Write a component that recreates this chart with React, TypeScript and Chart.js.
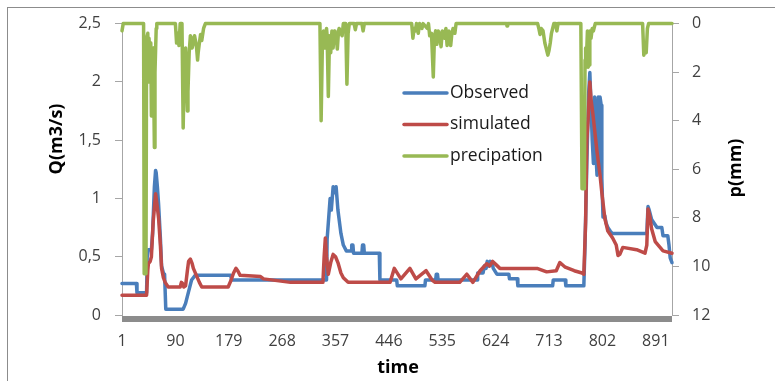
import { useEffect, useRef } from 'react';
import { Chart, registerables } from 'chart.js';
Chart.register(...registerables);

const xTickValues = [1, 90, 179, 268, 357, 446, 535, 624, 713, 802, 891];
const seriesNames = ['Observed', 'simulated', 'precipation'];

const obsT = [1, 25, 26, 42, 43, 45, 50, 52, 55, 57, 58, 60, 62, 65, 67, 70, 72, 74, 103, 107, 112, 117, 123, 182, 184, 342, 343, 348, 350, 353, 356, 358, 361, 366, 370, 375, 383, 384, 386, 387, 401, 402, 404, 405, 430, 431, 459, 460, 506, 507, 524, 525, 527, 528, 593, 594, 603, 605, 608, 610, 613, 615, 618, 620, 626, 646, 647, 660, 661, 719, 720, 740, 741, 771, 773, 776, 779, 781, 783, 785, 787, 789, 791, 793, 795, 797, 798, 800, 801, 803, 806, 808, 811, 815, 818, 876, 878, 880, 884, 893, 901, 903, 911, 913, 915, 918];
const obsQ = [0.27, 0.27, 0.19, 0.19, 0.5, 0.56, 0.56, 0.7, 1.1, 1.24, 1.22, 1.1, 0.95, 0.66, 0.42, 0.36, 0.35, 0.05, 0.05, 0.1, 0.2, 0.3, 0.34, 0.34, 0.3, 0.3, 0.65, 1.0, 0.9, 1.1, 1.05, 1.1, 0.9, 0.7, 0.6, 0.55, 0.55, 0.6, 0.6, 0.53, 0.53, 0.6, 0.6, 0.53, 0.53, 0.3, 0.3, 0.25, 0.25, 0.3, 0.3, 0.35, 0.35, 0.3, 0.3, 0.36, 0.36, 0.42, 0.4, 0.46, 0.42, 0.46, 0.45, 0.4, 0.35, 0.35, 0.31, 0.31, 0.25, 0.25, 0.3, 0.3, 0.25, 0.25, 0.6, 1.3, 1.9, 2.08, 1.8, 1.5, 1.3, 1.87, 1.4, 1.2, 1.87, 1.3, 1.87, 1.8, 1.17, 0.84, 0.85, 0.79, 0.75, 0.72, 0.7, 0.7, 0.93, 0.9, 0.82, 0.75, 0.75, 0.68, 0.68, 0.6, 0.49, 0.45];

const simT = [1, 42, 44, 45, 48, 50, 53, 57, 60, 62, 65, 67, 70, 73, 78, 98, 100, 102, 104, 107, 110, 112, 115, 118, 120, 125, 130, 134, 178, 183, 187, 191, 194, 198, 232, 237, 282, 336, 338, 340, 342, 345, 349, 353, 357, 361, 366, 370, 378, 448, 455, 466, 481, 491, 508, 518, 523, 564, 576, 586, 598, 609, 614, 619, 625, 631, 693, 709, 725, 731, 740, 755, 768, 771, 774, 776, 778, 781, 783, 786, 793, 798, 801, 806, 811, 819, 825, 828, 831, 836, 859, 873, 876, 878, 881, 884, 890, 903, 918];
const simQ = [0.17, 0.17, 0.38, 0.44, 0.46, 0.5, 0.8, 1.04, 0.92, 0.83, 0.6, 0.4, 0.32, 0.28, 0.24, 0.24, 0.28, 0.27, 0.24, 0.25, 0.38, 0.46, 0.48, 0.44, 0.4, 0.34, 0.28, 0.24, 0.24, 0.3, 0.36, 0.4, 0.38, 0.34, 0.33, 0.31, 0.28, 0.28, 0.5, 0.66, 0.5, 0.35, 0.45, 0.52, 0.5, 0.45, 0.36, 0.32, 0.28, 0.28, 0.4, 0.31, 0.4, 0.31, 0.38, 0.3, 0.28, 0.28, 0.35, 0.28, 0.38, 0.44, 0.42, 0.46, 0.43, 0.4, 0.4, 0.37, 0.38, 0.45, 0.41, 0.38, 0.36, 0.35, 0.8, 1.5, 1.67, 2.0, 1.85, 1.73, 1.4, 1.2, 1.05, 0.83, 0.72, 0.66, 0.6, 0.51, 0.52, 0.58, 0.56, 0.53, 0.6, 0.91, 0.85, 0.74, 0.63, 0.55, 0.53];

const precT = [1, 3, 37, 38, 41, 42, 44, 45, 46, 47, 49, 50, 51, 53, 54, 55, 56, 58, 59, 90, 92, 94, 96, 98, 101, 103, 105, 107, 110, 111, 113, 115, 117, 118, 120, 122, 125, 127, 128, 130, 132, 134, 137, 140, 331, 333, 335, 337, 339, 340, 342, 343, 345, 347, 349, 351, 353, 355, 356, 358, 360, 362, 363, 366, 368, 370, 374, 376, 378, 380, 388, 390, 392, 401, 403, 405, 484, 486, 488, 490, 492, 495, 497, 501, 503, 510, 512, 514, 517, 520, 522, 524, 526, 528, 530, 533, 535, 536, 539, 541, 543, 545, 546, 549, 551, 553, 556, 558, 642, 643, 644, 694, 696, 698, 700, 703, 706, 708, 711, 713, 715, 717, 719, 721, 724, 726, 728, 766, 768, 772, 773, 774, 776, 777, 778, 780, 781, 783, 785, 787, 790, 869, 871, 873, 875, 877, 879, 918];
const precP = [0.3, 0, 0, 10.3, 10.3, 0.6, 0.4, 2.4, 0.6, 1.0, 0.8, 3.8, 1.5, 1.0, 3.0, 5.1, 2.0, 0.2, 0, 0, 0.8, 0.4, 0.9, 0, 0, 4.3, 1.5, 1.0, 3.6, 2.8, 1.2, 0.5, 0.6, 1.0, 0.8, 0.5, 0.9, 1.5, 1.2, 0.8, 0.45, 0.7, 0.2, 0, 0, 4.0, 1.0, 0.3, 0.4, 1.0, 0.2, 0.5, 3.0, 0.5, 1.2, 0.3, 1.0, 0.3, 0.7, 0.5, 1.05, 0.3, 0.2, 0.4, 0.5, 0, 0, 2.5, 0.4, 0, 0, 0.25, 0, 0, 0.3, 0, 0, 0.6, 0.2, 0.3, 0, 0.4, 0, 0.2, 0, 0.2, 0, 0.5, 0.4, 2.2, 0.5, 0.3, 0.85, 0.3, 0.4, 0.95, 0.3, 0.3, 0.6, 0.2, 0.9, 0.5, 0.3, 0.9, 0.4, 0.2, 0.4, 0, 0, 0.1, 0, 0, 0.2, 0.45, 0.2, 0.3, 0.8, 1.0, 1.3, 1.1, 0.8, 0.4, 0.2, 0, 0, 0.3, 0, 0, 6.8, 6.8, 1.5, 1.0, 1.0, 0.3, 1.8, 1.7, 0.3, 0.6, 0.2, 0.3, 0, 0, 1.3, 1.0, 1.2, 0.2, 0, 0];

const colors = ['#4a7ebb', '#be4b48', '#98b954'];
const FONT = "'Open Sans', 'DejaVu Sans', sans-serif";

const toXY = (t: number[], v: number[]) => t.map((x, i) => ({ x, y: v[i] }));

const overlayPlugin = {
  id: 'overlay',
  afterDraw(chart: any) {
    const { ctx, chartArea } = chart;
    ctx.save();
    // thick grey band under the category axis
    ctx.fillStyle = '#8c8c8c';
    ctx.fillRect(chartArea.left, chartArea.bottom + 1, chartArea.right - chartArea.left, 6);
    // axis titles
    ctx.fillStyle = '#000';
    ctx.font = `bold 18px ${FONT}`;
    ctx.textAlign = 'center';
    ctx.textBaseline = 'middle';
    ctx.fillText('time', 398, 368);
    ctx.save();
    ctx.translate(57, 139);
    ctx.rotate(-Math.PI / 2);
    ctx.fillText('Q(m3/s)', 0, 0);
    ctx.restore();
    ctx.save();
    ctx.translate(736, 168);
    ctx.rotate(-Math.PI / 2);
    ctx.fillText('p(mm)', 0, 0);
    ctx.restore();
    // legend inside the plot
    ctx.font = `17.5px ${FONT}`;
    ctx.textAlign = 'left';
    ctx.lineCap = 'round';
    ctx.lineWidth = 3.5;
    chart.data.datasets.forEach((d: any, i: number) => {
      const y = 93 + i * 31.5;
      ctx.strokeStyle = d.borderColor;
      ctx.beginPath();
      ctx.moveTo(404, y);
      ctx.lineTo(447, y);
      ctx.stroke();
      ctx.fillStyle = '#1a1a1a';
      ctx.fillText(d.label, 450, y);
    });
    ctx.restore();
  },
};

export default function App() {
  const ref = useRef<HTMLCanvasElement>(null);
  useEffect(() => {
    const axisColor = '#a6a6a6';
    const tickFont = { family: FONT, size: 16 };
    const chart = new Chart(ref.current!, {
      type: 'line',
      data: {
        datasets: [
          { label: seriesNames[0], data: toXY(obsT, obsQ), borderColor: colors[0], yAxisID: 'y', order: 2 },
          { label: seriesNames[1], data: toXY(simT, simQ), borderColor: colors[1], yAxisID: 'y', order: 1 },
          { label: seriesNames[2], data: toXY(precT, precP), borderColor: colors[2], yAxisID: 'y1', order: 0 },
        ].map((d) => ({
          ...d,
          borderWidth: 3.5,
          pointRadius: 0,
          tension: 0,
          fill: false,
          clip: false as any,
          borderJoinStyle: 'round' as const,
          borderCapStyle: 'round' as const,
        })),
      },
      options: {
        animation: false,
        responsive: false,
        devicePixelRatio: 1,
        layout: { padding: { top: 19, left: 0, right: 0, bottom: 0 } },
        plugins: { legend: { display: false }, tooltip: { enabled: false } },
        scales: {
          x: {
            type: 'linear',
            min: 1,
            max: 918,
            afterBuildTicks: (s: any) => {
              s.ticks = xTickValues.map((v) => ({ value: v }));
            },
            afterFit: (s: any) => {
              s.height = 66;
            },
            grid: { display: false, drawTicks: false },
            border: { display: false },
            ticks: { font: tickFont, color: '#404040', maxRotation: 0, autoSkip: false, padding: 17, callback: (v: any) => String(v) },
          },
          y: {
            position: 'left',
            min: 0,
            max: 2.5,
            afterFit: (s: any) => {
              s.width = 122;
            },
            grid: { drawOnChartArea: false, drawTicks: true, tickLength: 7, color: axisColor },
            border: { display: true, color: axisColor },
            ticks: { stepSize: 0.5, font: tickFont, color: '#404040', padding: 14, callback: (v: any) => String(v).replace('.', ',') },
          },
          y1: {
            position: 'right',
            min: 0,
            max: 12,
            reverse: true,
            afterFit: (s: any) => {
              s.width = 103;
            },
            grid: { drawOnChartArea: false, drawTicks: true, tickLength: 7, color: axisColor },
            border: { display: true, color: axisColor },
            ticks: { stepSize: 2, font: tickFont, color: '#404040', padding: 13 },
          },
        },
      },
      plugins: [overlayPlugin],
    });
    return () => chart.destroy();
  }, []);
  return (
    <div style={{ position: 'fixed', left: 0, top: 0, width: 775, height: 381, overflow: 'hidden', background: '#fff' }}>
      <div style={{ position: 'absolute', left: 7, top: 7, width: 900, height: 500, border: '1px solid #8c8c8c' }} />
      <canvas ref={ref} width={775} height={381} style={{ position: 'absolute', left: 0, top: 0 }} />
    </div>
  );
}
